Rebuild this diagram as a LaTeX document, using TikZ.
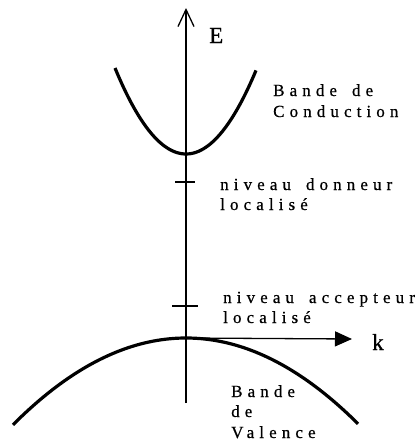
\documentclass[tikz,border=0pt]{standalone}
\usepackage{fontspec}
\setmainfont{Liberation Serif}
\newfontfamily\spacedfont[LetterSpace=30,WordSpace=1.6,FakeBold=0.6]{Liberation Serif}
\newfontfamily\axisfont[FakeBold=0.8]{Liberation Serif}
\newcommand\lblfont{\fontsize{17}{20}\spacedfont}
\usetikzlibrary{arrows.meta}
\begin{document}
\begin{tikzpicture}[x=1pt,y=-1pt,
  axisline/.style={line width=1.3pt},
  band/.style={line width=3.2pt},
  levtick/.style={line width=1.3pt},
  lbl/.style={inner sep=0pt,anchor=base west,font=\lblfont},
  axlbl/.style={inner sep=0pt,anchor=base west,font=\fontsize{23}{24}\axisfont}]
\useasboundingbox (0,0) rectangle (420,442);

% axes
\coordinate (O) at (186,338);
\coordinate (Etop) at (186,8);
\coordinate (Ebot) at (186,403);
\coordinate (kend) at (352,339);
\draw[axisline,-{Straight Barb[length=17pt,width=16pt,line width=1.3pt]}] (Ebot) -- (Etop);
\draw[axisline,-{Triangle[length=17pt,width=15pt]}] (O) -- (kend);
\node[axlbl] (E) at (209,43) {E};
\node[axlbl] (k) at (372,350) {k};

% conduction band (minimum at the axis)
\draw[band] plot[domain=-71:70,samples=60,smooth] ({186+\x},{154-1.706*(\x/10)*(\x/10)});
% valence band (maximum at the origin)
\draw[band] plot[domain=-173:172,samples=80,smooth] ({186+\x},{338+0.29*(\x/10)*(\x/10)});

% localised impurity levels
\coordinate (don) at (186,182);
\coordinate (acc) at (186,306);
\draw[levtick] ([xshift=-11pt]don) -- ([xshift=9pt]don);
\draw[levtick] ([xshift=-14pt]acc) -- ([xshift=12pt]acc);

% labels
\node[lbl] (bc1) at (273,96) {Bande de};
\node[lbl] (bc2) at (273,117) {Conduction};
\node[lbl] (nd1) at (220,190) {niveau donneur};
\node[lbl] (nd2) at (220,210) {localisé};
\node[lbl] (na1) at (223,303) {niveau accepteur};
\node[lbl] (na2) at (223,323) {localisé};
\node[lbl] (bv1) at (231,397) {Bande};
\node[lbl] (bv2) at (231,417) {de};
\node[lbl] (bv3) at (231,438) {Valence};
\end{tikzpicture}
\end{document}
